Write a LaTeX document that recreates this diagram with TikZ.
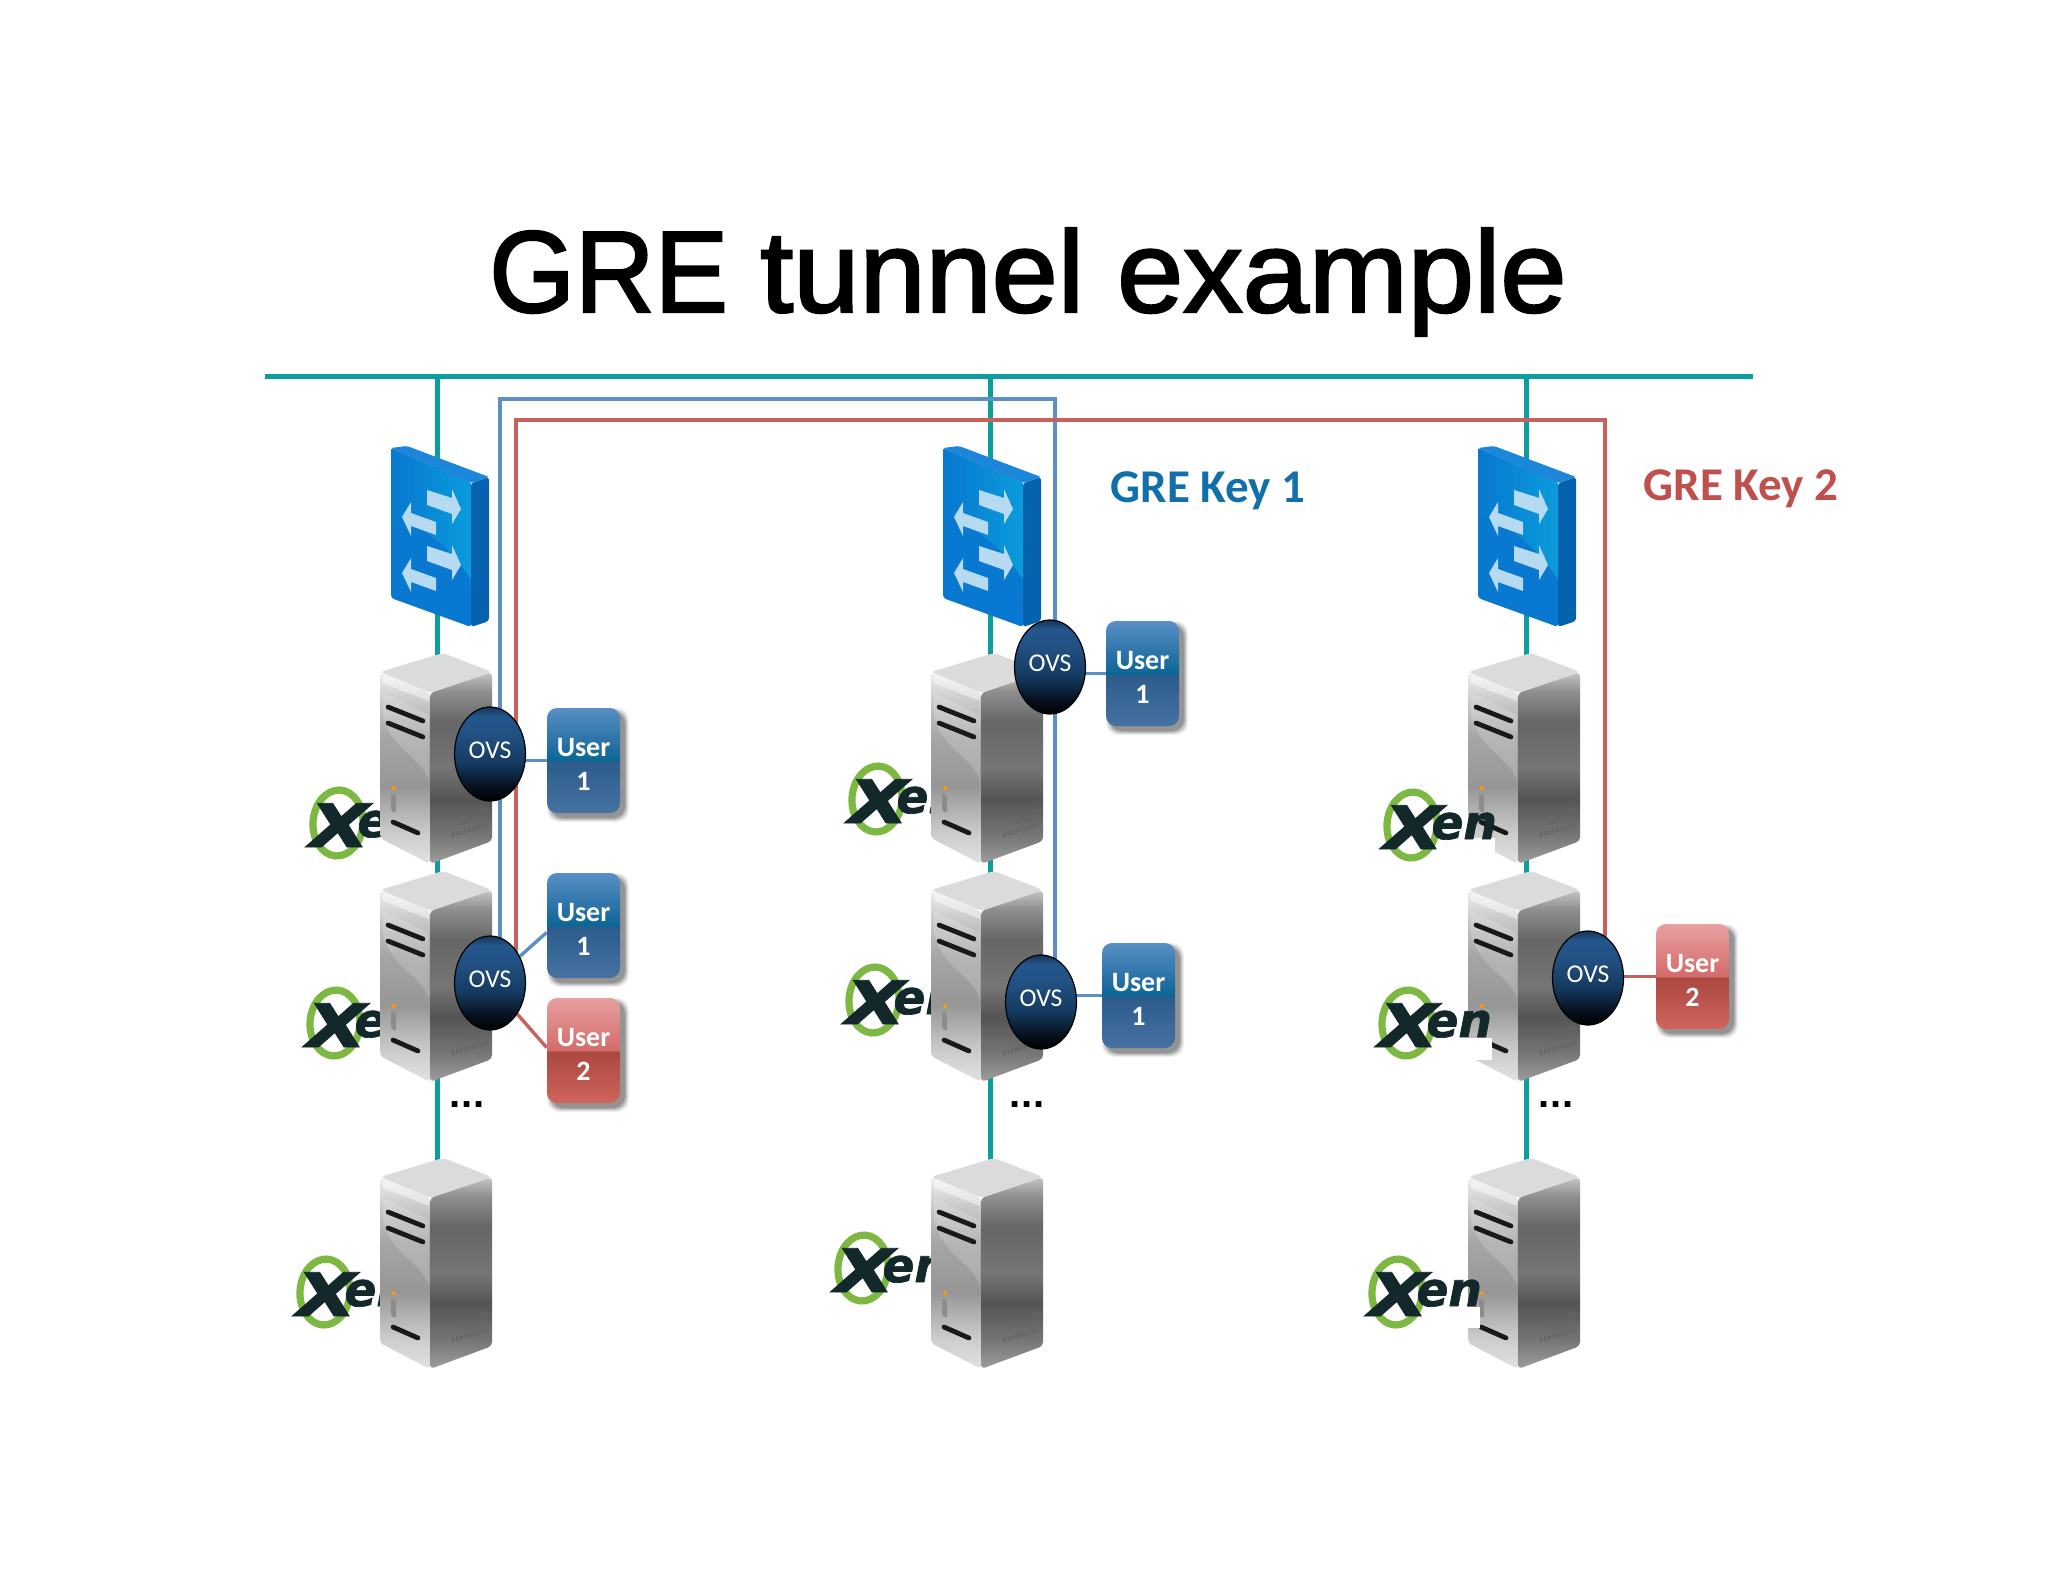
\documentclass[tikz,border=0pt]{standalone}
\usepackage{fontspec}
\setmainfont{Carlito}
\font\titlefont="Liberation Sans:embolden=2" at 58pt
\newfontfamily\dotfont{Liberation Sans}
\newfontfamily\xenfont{DejaVu Sans Bold Oblique}[FakeBold=1.5]
\usetikzlibrary{calc,shapes.geometric}
\definecolor{busteal}{HTML}{0B9E9C}
\definecolor{greblue}{HTML}{5B8FC6}
\definecolor{grered}{HTML}{C9605C}
\definecolor{keyblue}{HTML}{1170AC}
\definecolor{keyred}{HTML}{C0504D}
\definecolor{xengreen}{HTML}{7DB843}
\definecolor{xendark}{HTML}{12282B}
\definecolor{swbase}{HTML}{0878D0}
\definecolor{swlight}{HTML}{0A9CDC}
\definecolor{swside}{HTML}{0462AE}
\definecolor{swtop}{HTML}{1C86DA}
\definecolor{swarrow}{HTML}{B5DAF2}
\pgfdeclareverticalshading{srvleft}{100bp}{
 rgb(0bp)=(.886,.886,.886); rgb(25bp)=(.886,.886,.886); rgb(33bp)=(.80,.80,.80); rgb(45bp)=(.59,.59,.59);
 rgb(58bp)=(.65,.65,.65); rgb(68bp)=(.80,.80,.80); rgb(75bp)=(.94,.94,.94); rgb(100bp)=(.94,.94,.94)}
\pgfdeclareverticalshading{srvright}{100bp}{
 rgb(0bp)=(.62,.62,.62); rgb(25bp)=(.62,.62,.62); rgb(32bp)=(.47,.47,.47); rgb(42bp)=(.33,.33,.33);
 rgb(50bp)=(.46,.46,.46); rgb(62bp)=(.40,.40,.40); rgb(70bp)=(.56,.56,.56); rgb(75bp)=(.78,.78,.78); rgb(100bp)=(.78,.78,.78)}
\pgfdeclareverticalshading{ovsfill}{100bp}{
 rgb(0bp)=(0,0,0); rgb(25bp)=(0,0,0); rgb(33bp)=(.024,.07,.125); rgb(45bp)=(.08,.227,.376); rgb(60bp)=(.133,.314,.51);
 rgb(70bp)=(.141,.337,.549); rgb(75bp)=(.086,.204,.345); rgb(100bp)=(.086,.204,.345)}
\pgfdeclareverticalshading{userblue}{100bp}{
 rgb(0bp)=(.275,.447,.635); rgb(25bp)=(.275,.447,.635); rgb(49.5bp)=(.173,.36,.55); rgb(50bp)=(.031,.408,.588); rgb(58bp)=(.157,.44,.647); rgb(75bp)=(.345,.565,.776); rgb(100bp)=(.345,.565,.776)}
\pgfdeclareverticalshading{userred}{100bp}{
 rgb(0bp)=(.816,.392,.36); rgb(25bp)=(.816,.392,.36); rgb(49.5bp)=(.667,.282,.25); rgb(50bp)=(.83,.416,.416); rgb(75bp)=(.91,.627,.627); rgb(100bp)=(.91,.627,.627)}
\pgfdeclarelayer{back}
\pgfsetlayers{back,main}
\newcommand\lowered[1]{\raisebox{-2pt}[\height][\depth]{#1}}
\newcommand\lifted[1]{\raisebox{2pt}[\height][\depth]{#1}}
\tikzset{
 bus/.style={draw=busteal,line width=2.5pt},
 grb/.style={draw=greblue,line width=1.7pt},
 grr/.style={draw=grered,line width=1.7pt},
 anchorbox/.style={inner sep=0pt,outer sep=0pt},
 srvnode/.style={anchorbox,minimum width=50pt,minimum height=95pt},
 swnode/.style={anchorbox,minimum width=40pt,minimum height=70pt},
 ovs/.style={ellipse,inner sep=0pt,minimum width=35.5pt,minimum height=47pt,draw=black,line width=.6pt,
  shading=ovsfill,text=white,font=\fontsize{12.8}{14}\selectfont},
 user/.style={rectangle,rounded corners=5pt,inner sep=0pt,minimum width=36.5pt,minimum height=52.5pt,
  text=white,align=center,font=\fontsize{14}{17}\selectfont\bfseries},
 uboxb/.style={user,shading=userblue},
 uboxr/.style={user,shading=userred},
 keytext/.style={font=\fontsize{23.5}{27}\selectfont\bfseries},
 dots/.style={font=\dotfont\fontsize{20}{22}\selectfont\bfseries,text=black,inner sep=0pt},
 xenmark/.style={anchor=base west,inner sep=0pt,text=xendark},
}
% server body at local origin (top left of its bounding box)
\newcommand\serverbody[2]{%
 \begin{scope}[shift={(#1,#2)}]
  \shade[shading=srvleft,rounded corners=2pt] (-1,17)--(49,38)--(49,209)--(-1,183)--cycle;
  \shade[shading=srvright,rounded corners=2pt] (49,38)--(111,17)--(111,186)--(49,209)--cycle;
  \fill[black!14,rounded corners=2pt] (-1,17)--(62,-2)--(111,17)--(49,38)--cycle;
  \fill[white,opacity=.45] (2,18)--(48,37)--(48,46)--(2,28)--cycle;
  \fill[white,opacity=.18] (2,60) .. controls (10,95) and (38,100) .. (48,125)--(48,60)--(2,38)--cycle;
  \draw[black!90,line width=2.4pt,line cap=round] (7,52)--(42,66) (7,68)--(42,82) (12,167)--(37,178);
  \fill[black!45,rounded corners=1pt] (10,138)--(15,140)--(15,158)--(10,156)--cycle;
  \fill[orange!80!yellow] (13,133) circle (1pt);
  \draw[black!60,line width=2.2pt,dash pattern=on 1.2pt off .9pt] (79,168)--(106,161) (71,180)--(106,170) (101,156)--(106,154);
 \end{scope}}
% switch body
\newcommand\switchbody[2]{%
 \begin{scope}[shift={(#1,#2)}]
  \fill[swbase,rounded corners=1.5pt] (0,2)--(80,37)--(80,181)--(0,152)--cycle;
  \shade[left color=swbase,right color=swlight] (0,68) .. controls (25,76) and (60,100) .. (80,134)--(80,37)--(40,20)--(0,3)--cycle;
  \fill[swside,rounded corners=1.5pt] (80,37)--(98,31)--(98,175)--(80,181)--cycle;
  \fill[swtop,rounded corners=1pt] (0,2)--(16,0)--(98,31)--(80,37)--cycle;
  \foreach \dy in {0,56}{
   \fill[swarrow] (36,44+\dy)--(61,52+\dy)--(61,43+\dy)--(70,63+\dy)--(61,78+\dy)--(61,68+\dy)--(36,59+\dy)--cycle;
   \fill[swarrow] (11,71+\dy)--(20,56+\dy)--(20,67+\dy)--(45,76+\dy)--(45,89+\dy)--(20,80+\dy)--(20,90+\dy)--cycle;
  }
 \end{scope}}
% Xen logo, #1,#2 = centre of the ring
\newcommand\xenlogo[2]{%
 \begin{scope}[shift={(#1,#2)}]
  \draw[xengreen,line width=3.6pt,rotate=-4] (0,0) ellipse [x radius=25,y radius=33];
  \node[xenmark] at (-29,24) {\xenfont
    \fontsize{30}{30}\selectfont\scalebox{1.3}[1]{X}\kern-6pt
    \raisebox{5pt}{\fontsize{23.5}{24}\selectfont en}};
 \end{scope}}
% user box with soft shadow
\newcommand\usershadow[2]{%
 \foreach \g/\op in {4/.06,3/.08,2/.10,1/.12,0/.14}{
  \fill[black,opacity=\op,rounded corners=6pt] (#1+4-\g,#2+4-\g) rectangle (#1+73+5+\g,#2+105+5+\g);}}
\begin{document}
\begin{tikzpicture}[x=0.5pt,y=-0.5pt]
\useasboundingbox (0,0) rectangle (2048,1582);
\begin{pgfonlayer}{back}
\fill[white] (0,0) rectangle (2048,1582);
\end{pgfonlayer}

% bus end points and corners of the tunnels
\coordinate (busL) at (265,377);
\coordinate (busR) at (1753,377);
\coordinate (tap1) at (437,377);
\coordinate (tap2) at (990,377);
\coordinate (tap3) at (1526,377);
\coordinate (bTL) at (500,399);
\coordinate (bTR) at (1055,399);
\coordinate (rTL) at (516,420);
\coordinate (rTR) at (1605,420);

% switches and servers (anchors for connectors)
\node[swnode] (sw1) at (437,540) {};
\node[swnode] (sw2) at (990,540) {};
\node[swnode] (sw3) at (1526,540) {};
\node[srvnode] (s11) at (437,760) {};
\node[srvnode] (s12) at (437,978) {};
\node[srvnode] (s13) at (437,1265) {};
\node[srvnode] (s21) at (990,760) {};
\node[srvnode] (s22) at (990,978) {};
\node[srvnode] (s23) at (990,1265) {};
\node[srvnode] (s31) at (1526,760) {};
\node[srvnode] (s32) at (1526,978) {};
\node[srvnode] (s33) at (1526,1265) {};

% logos behind the servers in columns 1 and 2
\xenlogo{338}{823}\xenlogo{335}{1023}\xenlogo{325}{1292}
\xenlogo{877}{799}\xenlogo{874}{1000}\xenlogo{863}{1268}

\switchbody{391}{446}\switchbody{943}{446}\switchbody{1478}{446}
\serverbody{381}{655}\serverbody{381}{873}\serverbody{381}{1160}
\serverbody{932}{655}\serverbody{932}{873}\serverbody{932}{1160}
\serverbody{1469}{655}\serverbody{1469}{873}\serverbody{1469}{1160}

% column 3 logos lie over the servers
\fill[white] (1466,838) rectangle (1495,864);
\fill[white] (1466,1038) rectangle (1492,1060);
\fill[white] (1466,1307) rectangle (1480,1328);
\xenlogo{1412}{825}\xenlogo{1407}{1023}\xenlogo{1397}{1292}

% OVS and users
\node[ovs] (o11) at (490,754) {\lifted{OVS}};
\node[ovs] (o12) at (490,983) {\lifted{OVS}};
\node[ovs] (o21) at (1050,667) {\lifted{OVS}};
\node[ovs] (o22) at (1041,1002) {\lifted{OVS}};
\node[ovs] (o32) at (1588,978) {\lifted{OVS}};

\usershadow{547}{708}\node[uboxb] (u11) at (583.5,760.5) {\lowered{User}\\\lowered{1}};
\usershadow{547}{873}\node[uboxb] (u12) at (583.5,925.5) {\lowered{User}\\\lowered{1}};
\usershadow{547}{998}\node[uboxr] (u13) at (583.5,1050.5) {\lowered{User}\\\lowered{2}};
\usershadow{1106}{621}\node[uboxb] (u21) at (1142.5,673.5) {\lowered{User}\\\lowered{1}};
\usershadow{1102}{943}\node[uboxb] (u22) at (1138.5,995.5) {\lowered{User}\\\lowered{1}};
\usershadow{1656}{924}\node[uboxr] (u32) at (1692.5,976.5) {\lowered{User}\\\lowered{2}};

% connectors
\begin{pgfonlayer}{back}
 \draw[bus] (busL)--(busR);
 \draw[bus] (tap1)--(sw1)--(s11)--(s12)--(s13);
 \draw[bus] (tap2)--(sw2)--(s21)--(s22)--(s23);
 \draw[bus] (tap3)--(sw3)--(s31)--(s32)--(s33);
 \draw[grb] ($(o12)+(10,0)$)--(bTL)--(bTR)--($(o22)+(14,0)$);
 \draw[grr] ($(o12)+(26,0)$)--(rTL)--(rTR)--($(o32)+(17,0)$);
 \draw[grb] (o11 |- u11)--(u11);
 \draw[grb] (o21 |- u21)--(u21);
 \draw[grb] (o22 |- u22)--(u22);
 \draw[grr] (o32 |- u32)--(u32);
 \draw[grb] (o12)--($(u12.west)+(0,7)$);
 \draw[grr] (o12)--($(u13.west)+(0,-3)$);
\end{pgfonlayer}

% texts
\node[anchor=base,inner sep=0pt,font=\titlefont] (title) at (1028,312) {\scalebox{.95}[1]{GRE} \scalebox{1.025}[1]{tunnel example}};
\node[keytext,text=keyblue] (key1) at (1208,491) {GRE Key 1};
\node[keytext,text=keyred] (key2) at (1741,489) {GRE Key 2};
\node[dots] (d1) at (467,1105) {.\kern.5pt.\kern.5pt.};
\node[dots] (d2) at (1027,1105) {.\kern.5pt.\kern.5pt.};
\node[dots] (d3) at (1556,1105) {.\kern.5pt.\kern.5pt.};
\end{tikzpicture}
\end{document}
